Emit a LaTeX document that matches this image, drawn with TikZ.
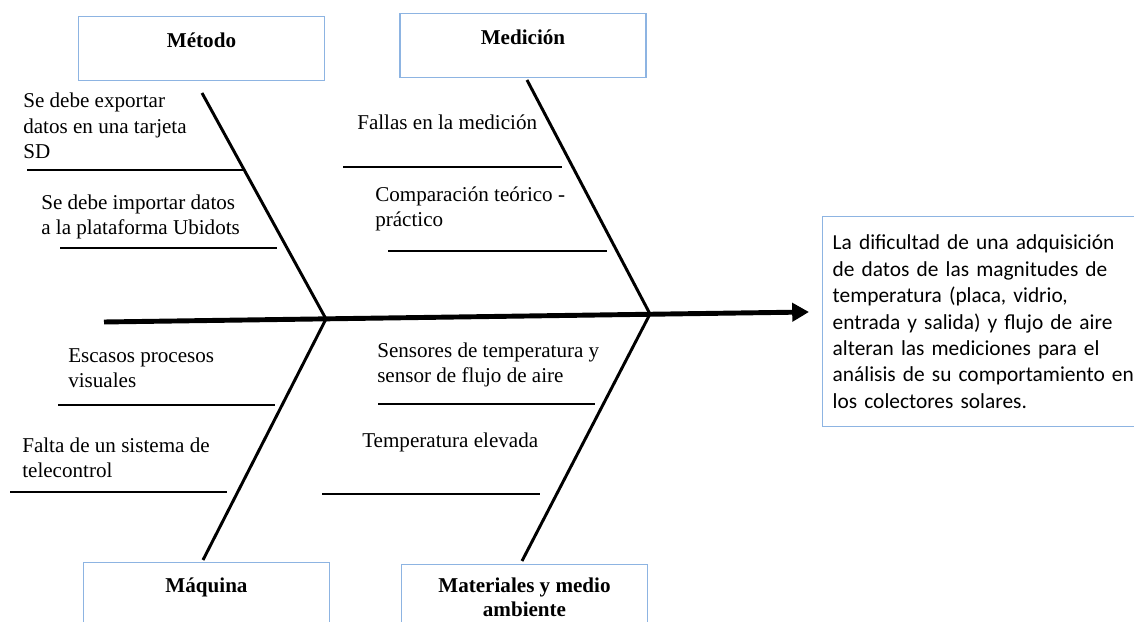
\documentclass[tikz,border=0pt]{standalone}
\usepackage{fontspec}
\setmainfont{Liberation Serif}
\newfontfamily\calibrifont[WordSpace=0.85]{Carlito}
\usetikzlibrary{arrows.meta}
\definecolor{boxblue}{RGB}{141,180,226}
\begin{document}
\begin{tikzpicture}[x=0.025cm, y=-0.025cm,
    cause/.style={anchor=base west, inner sep=0, align=left, font=\fontsize{15}{18.2}\selectfont},
    catbox/.style={draw=boxblue, line width=1pt, minimum width=6.15cm, inner sep=0, align=center,
      font=\fontsize{15}{17.5}\selectfont\bfseries},
    spine/.style={line width=3.5pt, -{Triangle[length=0.42cm, width=0.45cm]}},
    bone/.style={line width=2.1pt},
    rib/.style={line width=1.9pt}]
    \useasboundingbox (0,0) rectangle (1134,622);
    % categories
    \node[catbox, anchor=north, text height=0.78cm, text depth=0.82cm] (metodo) at (201.5,16) {Método};
    \node[catbox, anchor=north, text height=0.78cm, text depth=0.82cm] (medicion) at (523,13) {Medición};
    \node[catbox, anchor=north, text height=0.75cm, text depth=2cm] (maquina) at (206.5,562) {Máquina};
    \node[catbox, anchor=north, text height=1.3cm, text depth=2cm] (materiales) at (524.5,564) {Materiales y medio\\ambiente};
    % effect
    \node[draw=boxblue, line width=1pt, anchor=north west, text width=9cm, inner xsep=0.25cm, inner ysep=0,
      minimum height=5.25cm, align=left, font=\calibrifont\fontsize{15.2}{18.8}\selectfont] (efecto) at (822,216)
      {La dificultad de una adquisición\\de datos de las magnitudes de\\temperatura (placa, vidrio,\\entrada y salida) y flujo de aire\\alteran las mediciones para el\\análisis de su comportamiento en\\los colectores solares.};
    % spine and bones
    \coordinate (tail) at (104,322);
    \coordinate (head) at (809,312);
    \coordinate (j1) at (326,319);
    \coordinate (j2) at (650,314);
    \coordinate (b1) at (202,93);
    \coordinate (b2) at (527,80);
    \coordinate (b3) at (203,560);
    \coordinate (b4) at (522,561);
    \draw[spine] (tail) -- (head);
    \draw[bone] (b1) -- (j1) -- (b3);
    \draw[bone] (b2) -- (j2) -- (b4);
    % ribs
    \draw[rib] (27,170) -- (243,170);
    \draw[rib] (60,248) -- (277,248);
    \draw[rib] (343,167) -- (562,167);
    \draw[rib] (388,251) -- (607,251);
    \draw[rib] (58,405) -- (275,405);
    \draw[rib] (10,492) -- (227,492);
    \draw[rib] (378,404) -- (595,404);
    \draw[rib] (322,494) -- (540,494);
    % causes (base = last line)
    \node[cause] (c1) at (23,159) {Se debe exportar\\datos en una tarjeta\\SD};
    \node[cause] (c2) at (41,235) {Se debe importar datos\\a la plataforma Ubidots};
    \node[cause] (c3) at (357,130) {Fallas en la medición};
    \node[cause] (c4) at (375,227) {Comparación teórico -\\práctico};
    \node[cause] (c5) at (68,388) {Escasos procesos\\visuales};
    \node[cause] (c6) at (22,478) {Falta de un sistema de\\telecontrol};
    \node[cause] (c7) at (377,383) {Sensores de temperatura y\\sensor de flujo de aire};
    \node[cause] (c8) at (362,448) {Temperatura elevada};
\end{tikzpicture}
\end{document}
